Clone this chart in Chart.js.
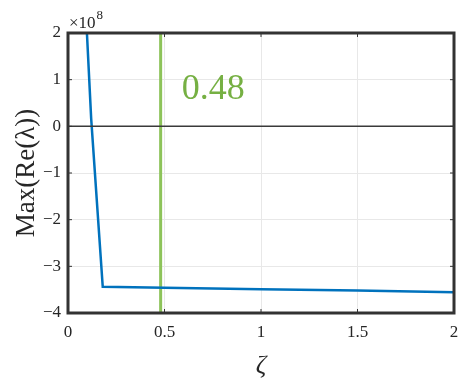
<!DOCTYPE html>
<html>
<head>
<meta charset="utf-8">
<script src="https://cdn.jsdelivr.net/npm/chart.js@4/dist/chart.umd.min.js"></script>
<style>
  html, body { margin: 0; padding: 0; background: #ffffff; }
  #wrap { width: 459px; height: 383px; position: relative; }
</style>
</head>
<body>
<div id="wrap"><canvas id="c" width="459" height="383"></canvas></div>
<script>
// Damping ratio ζ and the largest real part of the eigenvalues (in units of 1e8)
const zeta      = [0.09, 0.12, 0.18, 0.5, 1.0, 1.5, 2.0];
const maxReLam  = [2.67, 0.17, -3.44, -3.46, -3.49, -3.52, -3.555];

// Chosen damping ratio, marked with a vertical line
const zetaMark  = 0.48;

// Axis ranges and tick labels
const xTicks = [0, 0.5, 1, 1.5, 2];
const yTicks = [-4, -3, -2, -1, 0, 1, 2];
const yExponent = 8;

const SERIF = '"Liberation Serif", "DejaVu Serif", serif';
const AXIS_COLOR = '#333333';

// Frame around the plot, inner tick marks, zero line and annotations
const framePlugin = {
  id: 'frame',
  afterDatasetsDraw(chart) {
    const { ctx, chartArea: a, scales } = chart;
    const xs = scales.x, ys = scales.y;
    ctx.save();
    // zero reference line
    const y0 = ys.getPixelForValue(0);
    ctx.strokeStyle = '#3a3a3a';
    ctx.lineWidth = 1.5;
    ctx.beginPath();
    ctx.moveTo(a.left, y0);
    ctx.lineTo(a.right, y0);
    ctx.stroke();
    // inner tick marks on all four sides
    ctx.strokeStyle = AXIS_COLOR;
    ctx.lineWidth = 1;
    const tl = 4;
    ctx.beginPath();
    yTicks.forEach(v => {
      const p = ys.getPixelForValue(v);
      ctx.moveTo(a.left, p); ctx.lineTo(a.left + tl, p);
      ctx.moveTo(a.right, p); ctx.lineTo(a.right - tl, p);
    });
    xTicks.forEach(v => {
      const p = xs.getPixelForValue(v);
      ctx.moveTo(p, a.bottom); ctx.lineTo(p, a.bottom - tl);
      ctx.moveTo(p, a.top); ctx.lineTo(p, a.top + tl);
    });
    ctx.stroke();
    // box
    ctx.strokeStyle = AXIS_COLOR;
    ctx.lineWidth = 3;
    ctx.strokeRect(a.left, a.top, a.right - a.left, a.bottom - a.top);

    // exponent label above the y axis
    ctx.fillStyle = '#262626';
    ctx.textBaseline = 'alphabetic';
    ctx.textAlign = 'left';
    ctx.font = '17px ' + SERIF;
    const ex = a.left + 1, ey = a.top - 5;
    const base = '\u00d710';
    ctx.fillText(base, ex, ey);
    const bw = ctx.measureText(base).width;
    ctx.font = '13px ' + SERIF;
    ctx.fillText(String(yExponent), ex + bw + 1, ey - 9);

    // value of the marked damping ratio
    ctx.fillStyle = '#76b043';
    ctx.font = '36px ' + SERIF;
    ctx.fillText(String(zetaMark), xs.getPixelForValue(zetaMark) + 21, ys.getPixelForValue(0.58));
    ctx.restore();
  }
};

const ctx = document.getElementById('c').getContext('2d');
new Chart(ctx, {
  type: 'line',
  data: {
    datasets: [
      {
        label: 'marker',
        data: [{ x: zetaMark, y: yTicks[0] }, { x: zetaMark, y: yTicks[yTicks.length - 1] }],
        borderColor: '#8dc35a',
        borderWidth: 3,
        pointRadius: 0,
        order: 2
      },
      {
        label: 'Max(Re(λ))',
        data: zeta.map((z, i) => ({ x: z, y: maxReLam[i] })),
        borderColor: '#0072bd',
        borderWidth: 2.5,
        pointRadius: 0,
        tension: 0,
        order: 1
      }
    ]
  },
  options: {
    responsive: false,
    animation: false,
    devicePixelRatio: 1,
    layout: { padding: { left: 0, right: 5, top: 33, bottom: 0 } },
    plugins: {
      legend: { display: false },
      tooltip: { enabled: false }
    },
    scales: {
      x: {
        type: 'linear',
        min: xTicks[0],
        max: xTicks[xTicks.length - 1],
        afterBuildTicks: s => { s.ticks = xTicks.map(v => ({ value: v })); },
        afterFit: s => { s.height = 70; s.paddingLeft = 0; s.paddingRight = 0; },
        ticks: {
          color: '#262626',
          font: { family: SERIF, size: 17 },
          padding: 9,
          maxRotation: 0,
          callback: v => String(v)
        },
        grid: { color: '#e8e8e8', lineWidth: 1, drawTicks: false },
        border: { display: false },
        title: {
          display: true,
          text: 'ζ',
          color: '#262626',
          font: { family: SERIF, size: 26, style: 'italic' },
          padding: { top: 0, bottom: 1 }
        }
      },
      y: {
        type: 'linear',
        min: yTicks[0],
        max: yTicks[yTicks.length - 1],
        afterBuildTicks: s => { s.ticks = yTicks.map(v => ({ value: v })); },
        afterFit: s => { s.width = 68; s.paddingTop = 0; s.paddingBottom = 0; },
        ticks: {
          color: '#262626',
          font: { family: SERIF, size: 17 },
          padding: 7,
          callback: v => String(v).replace('-', '\u2212')
        },
        grid: { color: '#e8e8e8', lineWidth: 1, drawTicks: false },
        border: { display: false },
        title: {
          display: true,
          text: 'Max(Re(λ))',
          color: '#262626',
          font: { family: SERIF, size: 27 },
          padding: { top: 11, bottom: 0 }
        }
      }
    }
  },
  plugins: [framePlugin]
});
</script>
</body>
</html>
